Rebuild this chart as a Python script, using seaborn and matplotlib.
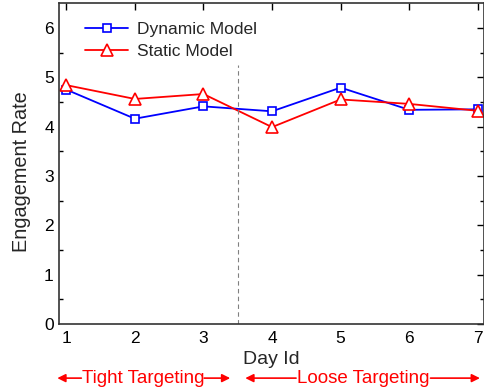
import numpy as np
import pandas as pd
import matplotlib
matplotlib.use("Agg")
import matplotlib.pyplot as plt
import seaborn as sns

days = [1, 2, 3, 4, 5, 6, 7]
dynamic_rate = [4.75, 4.16, 4.41, 4.31, 4.79, 4.34, 4.35]
static_rate = [4.84, 4.56, 4.66, 3.99, 4.55, 4.46, 4.32]

sns.set_style("white")
plt.rcParams["font.family"] = ["Liberation Sans", "DejaVu Sans"]

fig = plt.figure(figsize=(4.85, 3.92), dpi=100)
ax = fig.add_axes([0.121, 0.173, 0.877, 0.819])

sns.lineplot(x=days, y=dynamic_rate, ax=ax, color="blue", lw=1.3, marker="s",
             markersize=6, markerfacecolor="white", markeredgecolor="blue",
             markeredgewidth=1.2, label="Dynamic Model")
sns.lineplot(x=days, y=static_rate, ax=ax, color="red", lw=1.3, marker="^",
             markersize=8, markerfacecolor="white", markeredgecolor="red",
             markeredgewidth=1.2, label="Static Model")

# separator between targeting phases
ax.plot([3.5, 3.5], [0, 5.25], color="gray", ls="--", lw=0.8, dashes=(4, 3))

ax.set_xlim(0.89, 7.09)
ax.set_ylim(0, 6.5)
ax.set_xticks(days)
ax.set_yticks(range(7))
ax.set_yticks(np.arange(0.5, 6.5, 1), minor=True)
ax.tick_params(axis="both", which="both", direction="in", top=True, right=True,
               labelsize=12.5, colors="black")
ax.tick_params(which="major", length=5, width=1)
ax.tick_params(which="minor", length=3, width=1, left=True, right=True)
ax.tick_params(axis="x", pad=5)
for s in ax.spines.values():
    s.set_color("#333333")
    s.set_linewidth(1.2)

ax.set_xlabel("Day Id", fontsize=14)
ax.xaxis.set_label_coords(0.5, -0.085)
ax.set_ylabel("Engagement Rate", fontsize=14.3)
ax.yaxis.set_label_coords(-0.066, 0.474)

ax.legend(loc="upper left", bbox_to_anchor=(0.025, 0.99), frameon=False,
          fontsize=12.5, handlelength=2.5, labelspacing=0.4, handletextpad=0.5)

# phase annotations below the axis
red = "red"
ax.text(2.12, -0.168, "Tight Targeting", color=red, fontsize=13.5,
        ha="center", va="center", transform=ax.get_xaxis_transform())
ax.text(5.33, -0.168, "Loose Targeting", color=red, fontsize=13.5,
        ha="center", va="center", transform=ax.get_xaxis_transform())
# (tail, head) pairs in data x
arrows = [(1.22, 0.87), (3.01, 3.39), (4.35, 3.61), (6.31, 7.03)]
for x0, x1 in arrows:
    ax.annotate("", xy=(x1, -0.168), xytext=(x0, -0.168),
                xycoords=ax.get_xaxis_transform(),
                textcoords=ax.get_xaxis_transform(),
                arrowprops=dict(arrowstyle="-|>", color=red, lw=1.2,
                                mutation_scale=12, shrinkA=0, shrinkB=0),
                annotation_clip=False)

fig.savefig("out.png", dpi=100)
